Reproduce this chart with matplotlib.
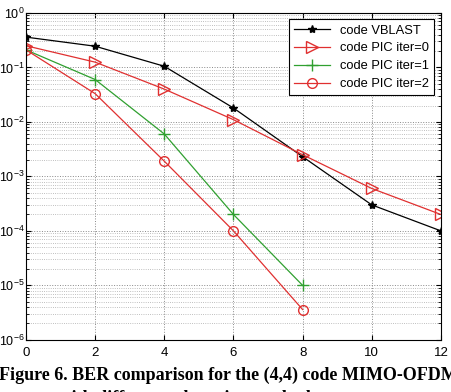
import matplotlib
matplotlib.use('Agg')
import matplotlib.pyplot as plt

# SNR (dB) and BER values
snr = [0, 2, 4, 6, 8, 10, 12]
ber_vblast = [0.36, 0.245, 0.105, 0.018, 0.0023, 3.0e-4, 1.0e-4]
ber_pic0 = [0.25, 0.125, 0.04, 0.011, 0.0025, 6.0e-4, 2.0e-4]
snr_short = [0, 2, 4, 6, 8]
ber_pic1 = [0.21, 0.06, 0.006, 2.0e-4, 1.0e-5]
ber_pic2 = [0.21, 0.033, 0.0019, 1.0e-4, 3.6e-6]

plt.rcParams['font.family'] = ['Liberation Sans', 'DejaVu Sans']
plt.rcParams['mathtext.fontset'] = 'custom'
plt.rcParams['mathtext.rm'] = 'Liberation Sans'
plt.rcParams['mathtext.it'] = 'Liberation Sans'

fig = plt.figure(figsize=(4.52, 3.92), dpi=100)
ax = fig.add_axes([0.0575, 0.133, 0.918, 0.834])

ax.semilogy(snr, ber_vblast, color='black', marker='*', markersize=6, lw=0.9,
            label='code VBLAST')
ax.semilogy(snr, ber_pic0, color='#e03030', marker='>', markersize=8, lw=0.9,
            markerfacecolor='none', label='code PIC iter=0')
ax.semilogy(snr_short, ber_pic1, color='#30a030', marker='+', markersize=8, lw=0.9,
            label='code PIC iter=1')
ax.semilogy(snr_short, ber_pic2, color='#e03030', marker='o', markersize=7, lw=0.9,
            markerfacecolor='none', label='code PIC iter=2')

ax.set_xlim(0, 12)
ax.set_ylim(1e-6, 1)
ax.set_xticks(range(0, 13, 2))
ax.grid(True, which='major', linestyle=':', color='#888888', lw=0.7)
ax.grid(True, which='minor', linestyle=':', color='#aaaaaa', lw=0.6)
ax.tick_params(direction='in', which='both', top=True, right=True)
ax.tick_params(axis='y', pad=1, labelsize=9)
ax.tick_params(axis='x', pad=5, labelsize=9.5)
for s in ax.spines.values():
    s.set_linewidth(0.8)

leg = ax.legend(loc='upper right', fontsize=9.3, fancybox=False, framealpha=1,
                edgecolor='black', borderaxespad=0.5, handlelength=2.8,
                labelspacing=0.45, borderpad=0.4)
leg.get_frame().set_linewidth(0.8)

fig.text(-0.003, 0.031, 'Figure 6. BER comparison for the (4,4) code MIMO-OFDM',
         family='Liberation Serif', weight='bold', fontsize=13, va='baseline')
fig.text(0.005, -0.027, 'system with difference detection methods',
         family='Liberation Serif', weight='bold', fontsize=13, va='baseline')

fig.savefig('out.png', dpi=100)
